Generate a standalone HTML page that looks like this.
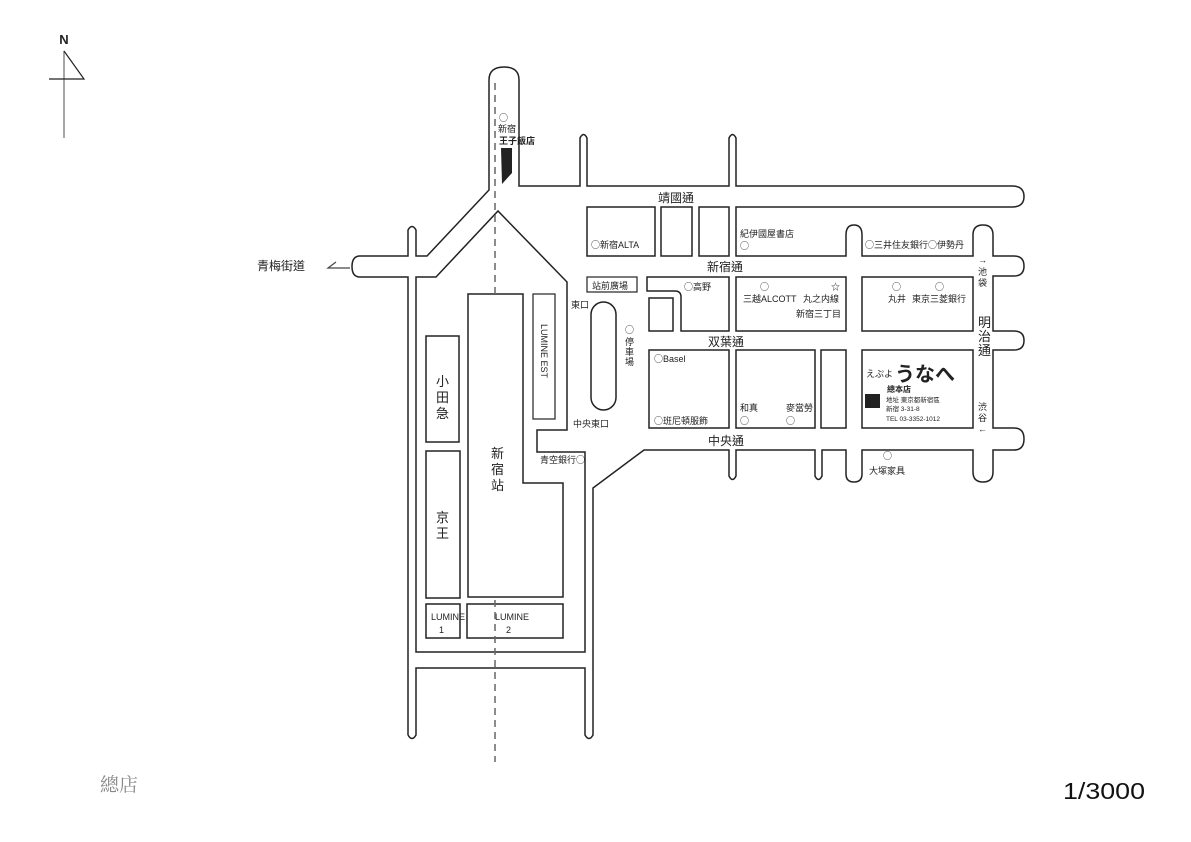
<!DOCTYPE html>
<html><head><meta charset="utf-8"><style>
html,body{margin:0;padding:0;background:#fff;}
svg{display:block;}
text{font-family:"Liberation Sans","Noto Sans CJK TC",sans-serif;fill:#222;}
.c{font-family:"Noto Sans CJK TC",sans-serif;}
</style></head><body>
<svg width="1191" height="842" viewBox="0 0 1191 842" xmlns="http://www.w3.org/2000/svg">
<text x="64" y="44" font-size="13" font-weight="bold" text-anchor="middle">N</text>
<line x1="64" y1="51" x2="64" y2="138" stroke="#888" stroke-width="1.5"/>
<polyline points="64,51 84,79 49,79" fill="none" stroke="#222" stroke-width="1.2"/>

<g fill="none" stroke="#222" stroke-width="1.5">
<path d="M408,735 L408,277 L360,277 Q352,277 352,266.5 Q352,256 360,256 L408,256 L408,230 Q412,223 416,230 L416,256 L427,256 L489,190 L489,80 Q489,67 504,67 Q519,67 519,80 L519,186 L580,186 L580,138 Q583.5,131 587,138 L587,186 L729,186 L729,138 Q732.5,131 736,138 L736,186 L1012,186 Q1024,186 1024,196.5 Q1024,207 1012,207 L736,207 L736,256 L846,256 L846,235 Q846,225 854,225 Q862,225 862,235 L862,256 L973,256 L973,235 Q973,225 983,225 Q993,225 993,235 L993,256 L1014,256 Q1024,256 1024,266 Q1024,276 1014,276 L993,276 L993,331 L1014,331 Q1024,331 1024,340.5 Q1024,350 1014,350 L993,350 L993,428 L1014,428 Q1024,428 1024,439 Q1024,450 1014,450 L993,450 L993,472 Q993,482 983,482 Q973,482 973,472 L973,450 L862,450 L862,474 Q862,482 854,482 Q846,482 846,474 L846,450 L822,450 L822,476 Q818.5,483 815,476 L815,450 L736,450 L736,476 Q732.5,483 729,476 L729,450 L644,450 L593,488 L593,735 Q589,742 585,735 L585,668 L416,668 L416,735 Q412,742 408,735"/>
<path d="M416,277 L436,277 L498,211 L567,282 L567,430 L537,430 L537,452 L585,452 L585,652 L416,652 Z"/>
<rect x="587" y="207" width="68" height="49"/>
<rect x="661" y="207" width="31" height="49"/>
<rect x="699" y="207" width="30" height="49"/>
<rect x="587" y="277" width="50" height="15" stroke-width="1.2"/>
<path d="M647,277 L729,277 L729,331 L681,331 L681,297 Q681,291 675,291 L647,291 Z"/>
<rect x="649" y="298" width="24" height="33"/>
<rect x="736" y="277" width="110" height="54"/>
<rect x="862" y="277" width="111" height="54"/>
<rect x="649" y="350" width="80" height="78"/>
<rect x="736" y="350" width="79" height="78"/>
<rect x="821" y="350" width="25" height="78"/>
<rect x="862" y="350" width="111" height="78"/>
<rect x="591" y="302" width="25" height="108" rx="12.5"/>
<rect x="533" y="294" width="22" height="125" stroke-width="1.2"/>
<path d="M468,294 L523,294 L523,483 L563,483 L563,597 L468,597 Z"/>
<rect x="426" y="336" width="33" height="106"/>
<rect x="426" y="451" width="34" height="147"/>
<rect x="426" y="604" width="34" height="34"/>
<rect x="467" y="604" width="96" height="34"/>
</g>
<line x1="495" y1="83" x2="495" y2="294" stroke="#666" stroke-width="1.5" stroke-dasharray="7,5"/>
<line x1="495" y1="600" x2="495" y2="762" stroke="#666" stroke-width="1.5" stroke-dasharray="7,5"/>
<polygon points="501,148 512,148 512,173 502,184" fill="#222"/>
<polyline points="336,262 328,268 350,268" fill="none" stroke="#444" stroke-width="1.2"/>
<text x="257" y="270" font-size="12">青梅街道</text>

<g font-size="9">
<text x="499" y="121" class="c">○</text>
<text x="498" y="132">新宿</text>
<text x="499" y="144" font-weight="bold">王子飯店</text>
<text x="591" y="248"><tspan class="c">○</tspan>新宿ALTA</text>
<text x="740" y="237">紀伊國屋書店</text>
<text x="740" y="249" class="c">○</text>
<text x="865" y="248"><tspan class="c">○</tspan>三井住友銀行<tspan class="c">○</tspan>伊勢丹</text>
<text x="592" y="289">站前廣場</text>
<text x="684" y="290"><tspan class="c">○</tspan>高野</text>
<text x="760" y="290" class="c">○</text>
<text x="831" y="290">☆</text>
<text x="743" y="302">三越ALCOTT</text>
<text x="803" y="302">丸之内線</text>
<text x="796" y="317">新宿三丁目</text>
<text x="892" y="290" class="c">○</text>
<text x="935" y="290" class="c">○</text>
<text x="888" y="302">丸井</text>
<text x="912" y="302">東京三菱銀行</text>
<text x="571" y="308">東口</text>
<text x="625" y="333" class="c">○</text>
<text x="625" y="345">停</text>
<text x="625" y="355">車</text>
<text x="625" y="365">場</text>
<text x="654" y="362"><tspan class="c">○</tspan>Basel</text>
<text x="654" y="424"><tspan class="c">○</tspan>班尼頓服飾</text>
<text x="740" y="411">和真</text>
<text x="740" y="424" class="c">○</text>
<text x="786" y="411">麥當勞</text>
<text x="786" y="424" class="c">○</text>
<text x="573" y="427">中央東口</text>
<text x="540" y="463">青空銀行<tspan class="c">○</tspan></text>
<text x="883" y="459" class="c">○</text>
<text x="869" y="474">大塚家具</text>
<text x="978" y="263">→</text>
<text x="978" y="275">池</text>
<text x="978" y="286">袋</text>
<text x="978" y="410">渋</text>
<text x="978" y="421">谷</text>
<text x="978" y="432">←</text>
<text x="431" y="620">LUMINE</text>
<text x="439" y="633">1</text>
<text x="495" y="620">LUMINE</text>
<text x="506" y="633">2</text>
</g>
<text font-size="9" transform="translate(541,324) rotate(90)">LUMINE EST</text>

<g font-size="12">
<text x="658" y="202">靖國通</text>
<text x="707" y="271">新宿通</text>
<text x="708" y="346">双葉通</text>
<text x="708" y="445">中央通</text>
</g>
<g font-size="13">
<text x="978" y="327">明</text>
<text x="978" y="341">治</text>
<text x="978" y="355">通</text>
<text x="436" y="386">小</text>
<text x="436" y="402">田</text>
<text x="436" y="418">急</text>
<text x="436" y="522">京</text>
<text x="436" y="538">王</text>
<text x="491" y="458">新</text>
<text x="491" y="474">宿</text>
<text x="491" y="490">站</text>
</g>
<text x="866" y="377" font-size="9">えぷよ</text>
<text x="895" y="381" font-size="20" font-weight="bold">うなへ</text>
<text x="887" y="392" font-size="8" font-weight="bold">總本店</text>
<rect x="865" y="394" width="15" height="14" fill="#222"/>
<g font-size="6.5">
<text x="886" y="402">地址 東京都新宿區</text>
<text x="886" y="411">新宿 3-31-8</text>
<text x="886" y="421">TEL 03-3352-1012</text>
</g>

<text x="100" y="791" font-size="19" style="font-family:'Liberation Serif','Noto Serif CJK SC',serif;fill:#888">總店</text>
<text x="1063" y="799" font-size="23" textLength="82" lengthAdjust="spacingAndGlyphs" style="fill:#111">1/3000</text>
</svg>
</body></html>
